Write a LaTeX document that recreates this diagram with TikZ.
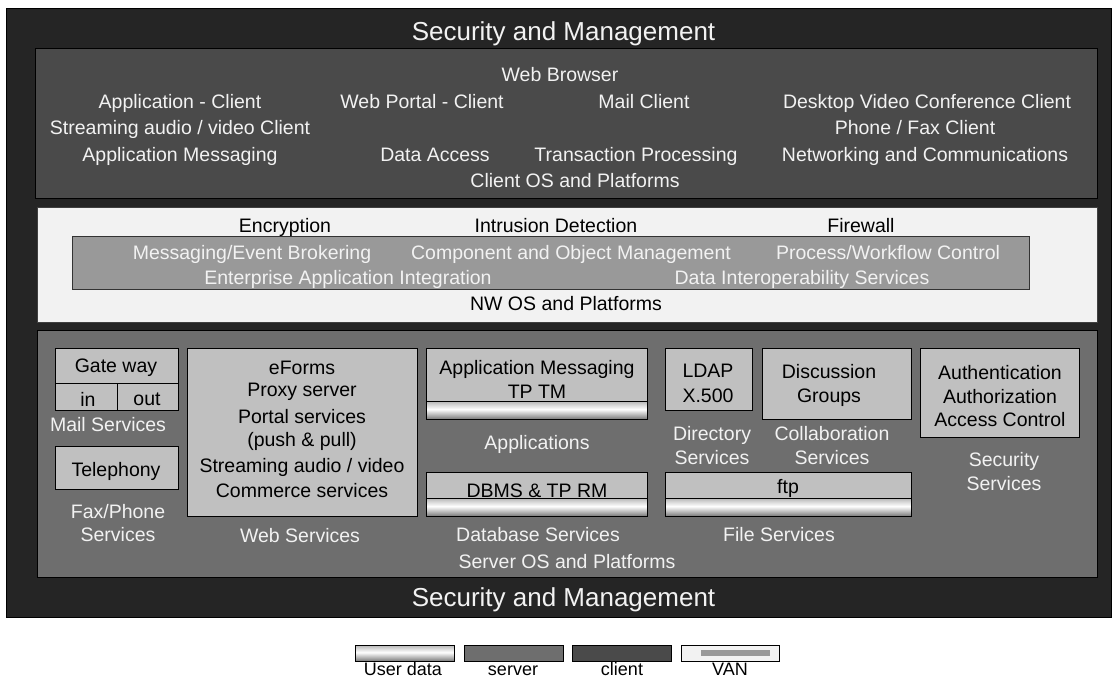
\documentclass[tikz,border=0pt]{standalone}
\usepackage{fontspec}
\setmainfont{Liberation Sans}
\definecolor{framec}{HTML}{252525}
\definecolor{clientc}{HTML}{4A4A4A}
\definecolor{vanc}{HTML}{F2F2F2}
\definecolor{bandc}{HTML}{999999}
\definecolor{serverc}{HTML}{6E6E6E}
\definecolor{boxc}{HTML}{C0C0C0}
\definecolor{palec}{HTML}{F2F2F2}
\definecolor{udA}{HTML}{7A7A7A}
\definecolor{udB}{HTML}{A8A8A8}
\definecolor{udC}{HTML}{FFFFFF}
\definecolor{udD}{HTML}{DADADA}
\definecolor{udE}{HTML}{B4B4B4}
\pgfdeclareverticalshading{userdata}{100bp}{color(0bp)=(udA); color(25bp)=(udA); color(34bp)=(udB); color(52bp)=(udC); color(64bp)=(udD); color(75bp)=(udE); color(100bp)=(udE)}
\tikzset{
  panel/.style={draw=black, line width=0.8pt},
  svbox/.style={draw=black, line width=0.9pt, fill=boxc},
  udbar/.style={draw=black, line width=0.9pt, shading=userdata},
  txt/.style={anchor=base, yshift=-7pt, inner sep=0pt, font=\fontsize{19.5}{21}\selectfont},
  big/.style={anchor=base, yshift=-9.3pt, inner sep=0pt, font=\fontsize{26}{28}\selectfont, text=palec},
  ct/.style={txt, text=palec},
  sv/.style={txt, text=palec},
  bk/.style={txt, text=black},
  key/.style={anchor=base, inner sep=0pt, text=black, font=\fontsize{18}{20}\selectfont}
}
\begin{document}
\begin{tikzpicture}[x=1pt,y=-1pt]
\useasboundingbox (0,0) rectangle (1117,679);
\fill[white] (0,0) rectangle (1117,679);

% outer security and management frame
\draw[panel, fill=framec] (6,8) rectangle (1111,617);
\node[big] (sm1) at (563.5,31.5) {Security and Management};
\node[big] (sm2) at (563.5,597) {Security and Management};

% client layer
\draw[panel, fill=clientc] (35,48) rectangle (1097,198);
\node[ct] (wb)  at (560,75)  {Web Browser};
\node[ct] (ac)  at (180,102) {Application - Client};
\node[ct] (wpc) at (422,102) {Web Portal - Client};
\node[ct] (mc)  at (644,102) {Mail Client};
\node[ct] (dvc) at (927,102) {Desktop Video Conference Client};
\node[ct] (sac) at (180,128) {Streaming audio / video Client};
\node[ct] (pfc) at (915,128) {Phone / Fax Client};
\node[ct] (am)  at (180,155) {Application Messaging};
\node[ct] (da)  at (435,155) {Data Access};
\node[ct] (tp)  at (636,155) {Transaction Processing};
\node[ct] (nc)  at (925,155) {Networking and Communications};
\node[ct] (cos) at (575,181) {Client OS and Platforms};

% network (VAN) layer
\draw[panel, draw=black!75, fill=vanc] (37,207) rectangle (1097,322);
\node[bk] (enc) at (285,226) {Encryption};
\node[bk] (ids) at (556,226) {Intrusion Detection};
\node[bk] (fw)  at (861,226) {Firewall};
\draw[panel, draw=black!80, fill=bandc] (72,236) rectangle (1029,289);
\node[ct] (meb) at (252,253) {Messaging/Event Brokering};
\node[ct] (com) at (571,253) {Component and Object Management};
\node[ct] (pwc) at (888,253) {Process/Workflow Control};
\node[ct] (eai) at (348,277) {Enterprise Application Integration};
\node[ct] (dis) at (802,277) {Data Interoperability Services};
\node[bk] (nwos) at (566,303) {NW OS and Platforms};

% server layer
\draw[panel, fill=serverc] (37,330) rectangle (1097,577);

% mail services
\draw[svbox] (55,348) rectangle (178,410);
\draw[black, line width=0.9pt] (55,383) -- (178,383) (117,383) -- (117,410);
\node[bk] (gw)  at (116,365) {Gate way};
\node[bk] (gin) at (88,399)  {in};
\node[bk] (gout) at (147,398) {out};
\node[sv] (ms)  at (108,424) {Mail Services};

% fax / phone services
\draw[svbox] (55,446) rectangle (178,489);
\node[bk] (tel) at (116,469) {Telephony};
\node[sv] (fp1) at (118,511) {Fax/Phone};
\node[sv] (fp2) at (118,534) {Services};

% web services
\draw[svbox] (187,348) rectangle (417,516);
\node[bk] (ef)  at (302,367) {eForms};
\node[bk] (px)  at (302,389) {Proxy server};
\node[bk] (ps)  at (302,416) {Portal services};
\node[bk] (pp)  at (302,439) {(push \& pull)};
\node[bk] (sav) at (302,465) {Streaming audio / video};
\node[bk] (cs)  at (302,490) {Commerce services};
\node[sv] (ws)  at (300,535) {Web Services};

% applications
\draw[svbox] (426,348) rectangle (647,401);
\draw[udbar] (426,401) rectangle (647,419);
\node[bk] (amsg) at (537,367) {Application Messaging};
\node[bk] (tptm) at (537,391) {TP TM};
\node[sv] (apps) at (537,442) {Applications};

% database services
\draw[svbox] (426,472) rectangle (647,498);
\draw[udbar] (426,498) rectangle (647,516);
\node[bk] (dbms) at (537,490) {DBMS \& TP RM};
\node[sv] (dbs)  at (538,534) {Database Services};
\node[sv] (sos)  at (567,561) {Server OS and Platforms};

% directory services
\draw[svbox] (665,348) rectangle (752,410);
\node[bk] (ldap) at (708,370) {LDAP};
\node[bk] (x5)   at (708,395) {X.500};
\node[sv] (dir1) at (712,433) {Directory};
\node[sv] (dir2) at (712,457) {Services};

% collaboration services
\draw[svbox] (762,348) rectangle (911,419);
\node[bk] (disc) at (829,371) {Discussion};
\node[bk] (grp)  at (829,395) {Groups};
\node[sv] (col1) at (832,433) {Collaboration};
\node[sv] (col2) at (832,457) {Services};

% file services
\draw[svbox] (665,472) rectangle (911,498);
\draw[udbar] (665,498) rectangle (911,516);
\node[bk] (ftp) at (788,486) {ftp};
\node[sv] (fs)  at (779,534) {File Services};

% security services
\draw[svbox] (920,348) rectangle (1079,437);
\node[bk] (aun) at (1000,372) {Authentication};
\node[bk] (aur) at (1000,396) {Authorization};
\node[bk] (acc) at (1000,419) {Access Control};
\node[sv] (sec1) at (1004,459) {Security};
\node[sv] (sec2) at (1004,483) {Services};

% legend
\draw[udbar] (355,645) rectangle (454,661);
\draw[panel, fill=serverc] (464,645) rectangle (563,661);
\draw[panel, fill=clientc] (572,645) rectangle (671,661);
\draw[panel, fill=vanc] (681,645) rectangle (779,661);
\fill[bandc] (701,650) rectangle (770,656);
\node[key] (lud) at (403,675.5) {User data};
\node[key] (lsv) at (513,675.5) {server};
\node[key] (lcl) at (622,675.5) {client};
\node[key] (lvn) at (730,675.5) {VAN};
\end{tikzpicture}
\end{document}
